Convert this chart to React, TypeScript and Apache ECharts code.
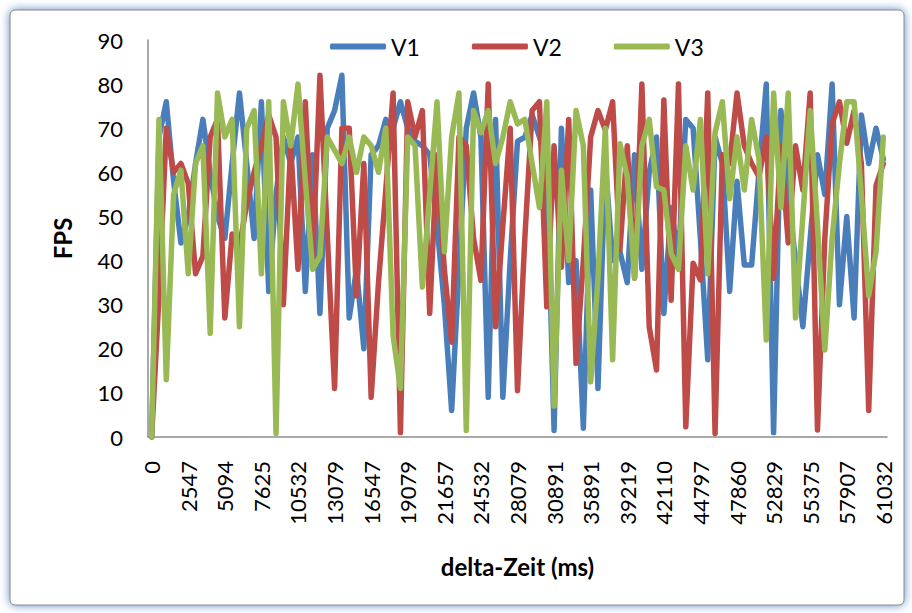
import React, { useEffect, useRef } from "react";
import * as echarts from "echarts";

const tickLabels = ["0", "2547", "5094", "7625", "10532", "13079", "16547", "19079", "21657", "24532", "28079", "30891", "35891", "39219", "42110", "44797", "47860", "52829", "55375", "57907", "61032"];

const v1 = [0, 68, 76, 58, 44, 50, 62, 72, 60, 50, 45, 62, 78, 62, 45, 76, 33, 55, 68, 62,
  68, 33, 64, 28, 70, 74, 82, 27, 38, 20, 64, 66, 72, 70, 76, 70, 67, 66, 64, 48,
  30, 6, 38, 70, 78, 68, 9, 72, 9, 40, 67, 68, 73, 68, 62, 1.5, 70, 35, 40, 2,
  56, 11, 62, 40, 42, 35, 64, 38, 60, 68, 28, 52, 40, 72, 70, 45, 17.5, 68, 62, 33,
  58, 39, 39, 60, 80, 1, 74, 55, 40, 25, 45, 64, 55, 80, 30, 50, 27, 73, 62, 70, 63];

const v2 = [0, 32, 70, 60, 62, 57.5, 37, 41, 68, 72, 27, 46, 43, 53, 60, 66, 73, 68, 30, 66,
  38, 76, 40, 82, 46, 11, 70, 70, 32, 62, 9, 35, 56, 78, 1, 76, 68, 74, 28, 64,
  38, 21.5, 68, 66, 45, 35.5, 80, 25, 48, 70, 10.5, 45, 74, 76, 29.5, 66, 38.5, 72, 16.7, 40,
  68, 74, 69.6, 76, 42.4, 66, 36, 80, 25, 15.2, 76.4, 31, 80, 2.3, 39.4, 35.6, 78, 0.8, 64, 62,
  78, 66, 62, 59, 68, 36, 66, 44, 66, 56, 78, 1.6, 45, 71, 76, 66.6, 74, 62, 6, 57, 62];

const v3 = [0, 72, 13, 55, 60.5, 37, 62, 66, 23.5, 78, 68, 72, 25, 70, 74, 37, 76, 0.8, 76, 66,
  80, 58, 38, 41, 68, 65, 62, 68, 60, 68, 66, 60, 70, 23, 11, 68, 66, 34, 55, 76,
  42, 68, 78, 1.5, 74, 69, 74, 62, 68, 76, 71, 72, 62, 52, 76, 7, 60.5, 40, 74, 66,
  12.5, 36, 70, 17.5, 66.5, 59, 36, 66, 72, 56.7, 56, 41.6, 38, 66, 56, 72, 37, 69, 76, 54,
  68, 56, 72, 63, 22, 78, 52, 78, 27, 50, 74, 48, 19.7, 45, 62, 76, 76, 55, 32, 42, 68];

const seriesNames = ["V1", "V2", "V3"];
const seriesColors = ["#4A7EBB", "#BE4B48", "#98B954"];

const categories = Array.from({ length: v1.length }, (_, i) => (i % 5 === 0 ? tickLabels[i / 5] : ""));

export default function App() {
  const ref = useRef<HTMLDivElement>(null);
  useEffect(() => {
    if (!ref.current) return;
    const chart = echarts.init(ref.current, null, { renderer: "svg" });
    const font = "Lato, 'Liberation Sans', sans-serif";
    const data = [v1, v2, v3];
    chart.setOption({
      animation: false,
      backgroundColor: "#ffffff",
      textStyle: { fontFamily: font },
      graphic: [
        {
          type: "rect",
          shape: { x: 10, y: 10, width: 894, height: 595, r: 5 },
          style: {
            fill: "#ffffff",
            stroke: "#8a8a8a",
            lineWidth: 1,
            shadowBlur: 10,
            shadowColor: "rgba(79,129,189,0.9)",
          },
          z: -10,
          silent: true,
        },
      ],
      legend: {
        data: seriesNames,
        top: 30,
        left: 325,
        itemWidth: 56,
        itemHeight: 6,
        itemGap: 52,
        icon: "roundRect",
        textStyle: { fontFamily: font, fontSize: 23, color: "#000" },
      },
      grid: { left: 148, top: 40, right: 25, bottom: 176, containLabel: false },
      xAxis: {
        type: "category",
        data: categories,
        boundaryGap: true,
        name: "delta-Zeit (ms)",
        nameLocation: "middle",
        nameGap: 117,
        nameTextStyle: { fontFamily: font, fontSize: 24, fontWeight: "bold", color: "#000" },
        axisLine: { lineStyle: { color: "#8c8c8c", width: 1.5 } },
        axisTick: { show: false },
        splitLine: { show: false },
        axisLabel: {
          interval: 4,
          rotate: 90,
          margin: 24,
          fontFamily: font,
          fontSize: 22,
          color: "#000",
        },
      },
      yAxis: {
        type: "value",
        min: 0,
        max: 90,
        interval: 10,
        name: "FPS",
        nameLocation: "middle",
        nameGap: 74,
        nameTextStyle: { fontFamily: font, fontSize: 24, fontWeight: "bold", color: "#000" },
        axisLine: { show: true, lineStyle: { color: "#8c8c8c", width: 1.5 } },
        axisTick: { show: false },
        splitLine: { show: false },
        axisLabel: { margin: 25, fontFamily: font, fontSize: 22, color: "#000" },
      },
      series: seriesNames.map((name, k) => ({
        name,
        type: "line",
        data: data[k],
        showSymbol: false,
        symbol: "none",
        color: seriesColors[k],
        lineStyle: { width: 5.5, color: seriesColors[k], cap: "round", join: "round" },
        z: 2 + k,
      })),
    });
    return () => chart.dispose();
  }, []);
  return (
    <div
      ref={ref}
      style={{ position: "fixed", left: 0, top: 0, width: 912, height: 613, background: "#fff" }}
    />
  );
}
